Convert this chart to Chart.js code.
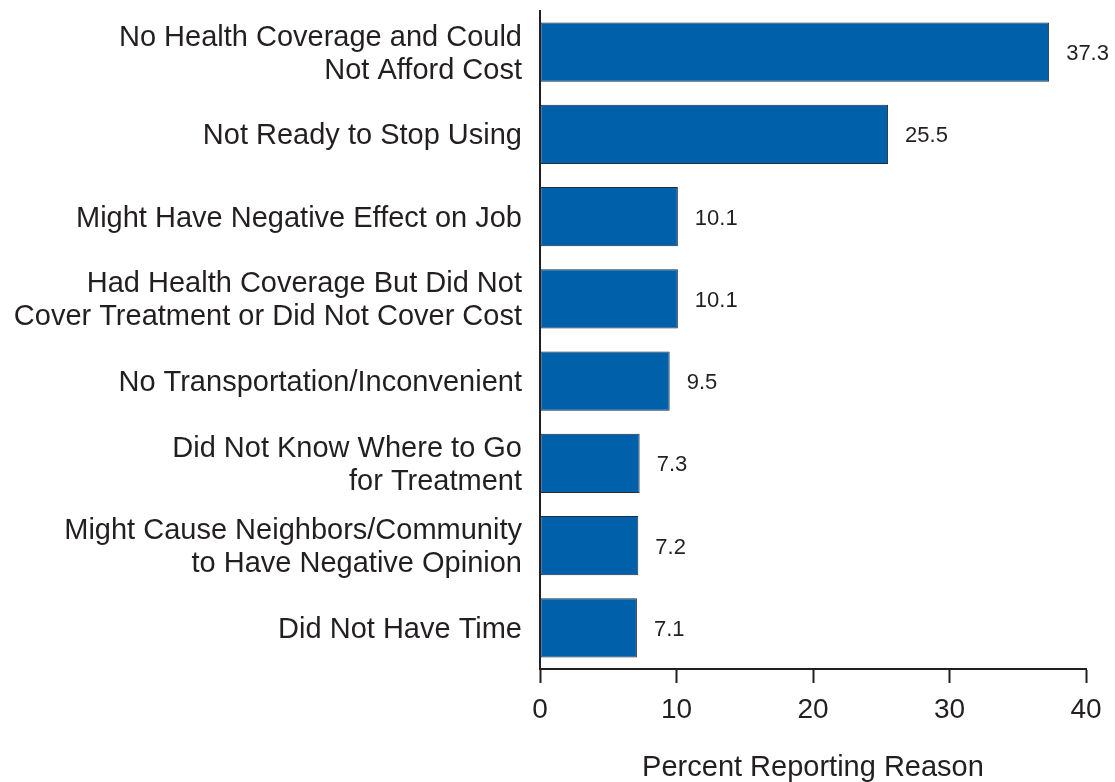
<!DOCTYPE html>
<html><head><meta charset="utf-8">
<script src="https://cdn.jsdelivr.net/npm/chart.js@4"></script>
<style>html,body{margin:0;padding:0;background:#fff}#wrap{width:1115px;height:782px;position:relative}</style>
</head><body><div id="wrap"><canvas id="c" width="1115" height="782"></canvas></div>
<script>
const categories = [
  ["No Health Coverage and Could", "Not Afford Cost"],
  "Not Ready to Stop Using",
  "Might Have Negative Effect on Job",
  ["Had Health Coverage But Did Not", "Cover Treatment or Did Not Cover Cost"],
  "No Transportation/Inconvenient",
  ["Did Not Know Where to Go", "for Treatment"],
  ["Might Cause Neighbors/Community", "to Have Negative Opinion"],
  "Did Not Have Time"
];
const values = [37.3, 25.5, 10.1, 10.1, 9.5, 7.3, 7.2, 7.1];
const xTicks = [0, 10, 20, 30, 40];
const axisTitle = "Percent Reporting Reason";

const TEXT = '#231f20';
const FONT = "'Liberation Sans', Arial, Helvetica, sans-serif";

const valueLabels = {
  id: 'valueLabels',
  afterDatasetsDraw(chart) {
    const ctx = chart.ctx;
    const meta = chart.getDatasetMeta(0);
    ctx.save();
    ctx.font = '22px ' + FONT;
    ctx.fillStyle = TEXT;
    ctx.textAlign = 'left';
    ctx.textBaseline = 'middle';
    meta.data.forEach((bar, i) => {
      ctx.fillText(values[i].toFixed(1), bar.x + 17, bar.y + 2);
    });
    ctx.restore();
  }
};

new Chart(document.getElementById('c'), {
  type: 'bar',
  data: {
    labels: categories,
    datasets: [{
      data: values,
      backgroundColor: '#0060a9',
      borderColor: '#1d2d40',
      borderWidth: 1,
      borderSkipped: false,
      categoryPercentage: 1,
      barPercentage: 0.72
    }]
  },
  options: {
    indexAxis: 'y',
    responsive: false,
    animation: false,
    devicePixelRatio: 1,
    layout: { padding: { left: 0, right: 29, top: 11, bottom: 0 } },
    plugins: { legend: { display: false }, tooltip: { enabled: false } },
    scales: {
      x: {
        type: 'linear',
        min: xTicks[0],
        max: xTicks[xTicks.length - 1],
        afterBuildTicks(s) { s.ticks = xTicks.map(v => ({ value: v })); },
        afterFit(s) { s.height = 113; s.paddingLeft = 0; s.paddingRight = 0; },
        grid: { drawOnChartArea: false, drawTicks: true, tickLength: 14, tickColor: TEXT, tickWidth: 2, offset: false },
        border: { display: true, color: TEXT, width: 2 },
        ticks: { color: TEXT, font: { family: FONT, size: 28 }, padding: 10, maxRotation: 0 },
        title: { display: true, text: axisTitle, color: TEXT, font: { family: FONT, size: 29 }, padding: { top: 0, bottom: -3 } }
      },
      y: {
        type: 'category',
        afterFit(s) { s.width = 540; s.paddingTop = 0; s.paddingBottom = 0; },
        grid: { display: false, drawTicks: false },
        border: { display: true, color: TEXT, width: 2 },
        ticks: { color: TEXT, font: { family: FONT, size: 29, lineHeight: 1.14 }, padding: 18, autoSkip: false, labelOffset: 2 }
      }
    }
  },
  plugins: [valueLabels]
});
</script></body></html>
